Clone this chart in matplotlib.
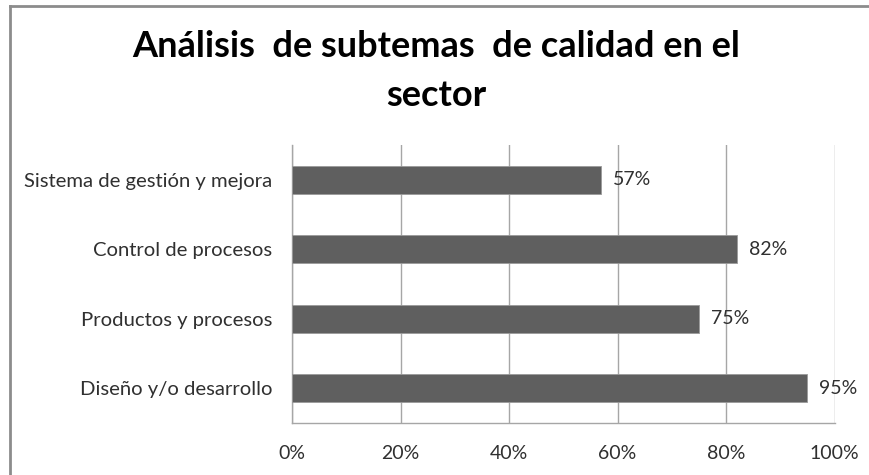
import matplotlib.pyplot as plt
from matplotlib.lines import Line2D
from matplotlib.ticker import FuncFormatter

categories = ["Diseño y/o desarrollo", "Productos y procesos",
              "Control de procesos", "Sistema de gestión y mejora"]
values = [0.95, 0.75, 0.82, 0.57]
x_ticks = [0, 0.2, 0.4, 0.6, 0.8, 1.0]

plt.rcParams['font.family'] = ['Lato', 'DejaVu Sans']

W, H = 870, 475
fig = plt.figure(figsize=(W / 100, H / 100), dpi=100)
ax = fig.add_axes([292 / W, 1 - 423 / H, (834.5 - 292) / W, (423 - 145) / H])

ypos = range(len(categories))
ax.barh(ypos, values, height=0.4, color="#5f5f5f", edgecolor="#9a9a9a",
        linewidth=0.6, zorder=3)

for y, v in zip(ypos, values):
    ax.annotate(f"{v * 100:.0f}%", (v, y), xytext=(8.5, 0),
                textcoords="offset points", va="center", ha="left",
                fontsize=14, color="#303030", zorder=4)

ax.set_xlim(0, 1)
ax.set_ylim(-0.5, len(categories) - 0.5)
ax.set_xticks(x_ticks)
ax.xaxis.set_major_formatter(FuncFormatter(lambda v, _: f"{v * 100:.0f}%"))
ax.set_yticks(list(ypos))
ax.set_yticklabels(categories)
ax.tick_params(axis="both", length=0, labelsize=14, labelcolor="#303030")
ax.tick_params(axis="y", labelsize=14.6, pad=14)
ax.tick_params(axis="x", pad=16)

ax.grid(axis="x", color="#a6a6a6", linewidth=1.0, zorder=0)
for side in ["top", "right"]:
    ax.spines[side].set_visible(False)
for side in ["left", "bottom"]:
    ax.spines[side].set_color("#a6a6a6")
    ax.spines[side].set_linewidth(1.0)

fig.text(436 / W, 1 - 71 / H, "Análisis  de subtemas  de calidad en el\nsector",
         ha="center", va="center", fontsize=26, fontweight="bold",
         linespacing=1.62, color="#000000")

# outer frame (only top and left edges are visible in the picture)
fig.add_artist(Line2D([10 / W, 10 / W], [0, 1 - 6 / H], color="#8c8c8c", lw=2))
fig.add_artist(Line2D([10 / W, 1], [1 - 6 / H, 1 - 6 / H], color="#8c8c8c", lw=2))

fig.savefig("out.png", dpi=100)
